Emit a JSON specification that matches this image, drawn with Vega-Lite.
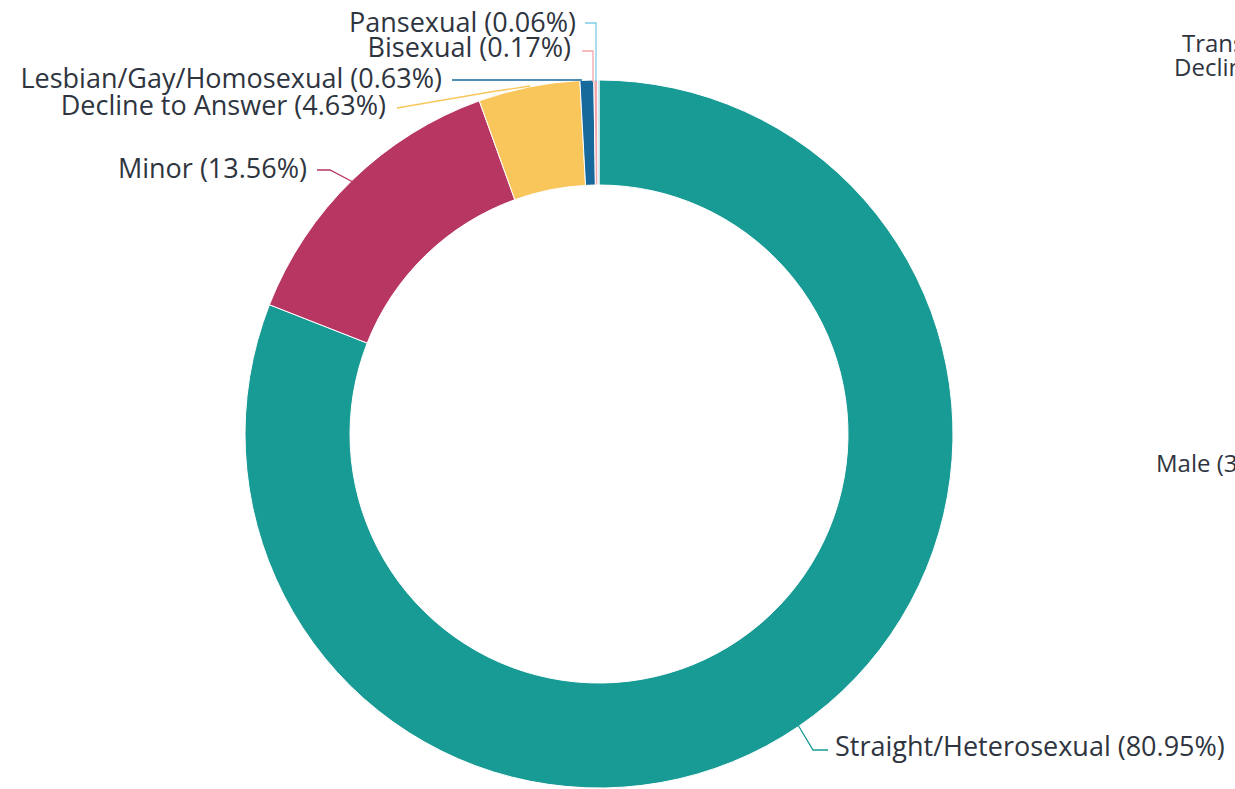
{
  "$schema": "https://vega.github.io/schema/vega-lite/v6.json",
  "width": 1198,
  "height": 868,
  "autosize": {"type": "none"},
  "padding": {"left": 0, "top": 0, "right": 37, "bottom": 0},
  "background": "white",
  "config": {"view": {"stroke": null}},
  "datasets": {
    "slices": [
      {"category": "Straight/Heterosexual", "pct": 80.95, "idx": 1},
      {"category": "Minor", "pct": 13.56, "idx": 2},
      {"category": "Decline to Answer", "pct": 4.63, "idx": 3},
      {"category": "Lesbian/Gay/Homosexual", "pct": 0.63, "idx": 4},
      {"category": "Bisexual", "pct": 0.17, "idx": 5},
      {"category": "Pansexual", "pct": 0.06, "idx": 6}
    ],
    "leaders": [
      {"category": "Pansexual", "seq": 1, "lx": -14, "ly": 411},
      {"category": "Pansexual", "seq": 2, "lx": -3, "ly": 411},
      {"category": "Pansexual", "seq": 3, "lx": -3, "ly": 352},
      {"category": "Bisexual", "seq": 1, "lx": -17, "ly": 383},
      {"category": "Bisexual", "seq": 2, "lx": -6, "ly": 383},
      {"category": "Bisexual", "seq": 3, "lx": -6, "ly": 352},
      {"category": "Lesbian/Gay/Homosexual", "seq": 1, "lx": -147, "ly": 354},
      {"category": "Lesbian/Gay/Homosexual", "seq": 2, "lx": -17, "ly": 354},
      {"category": "Decline to Answer", "seq": 1, "lx": -202, "ly": 326},
      {"category": "Decline to Answer", "seq": 2, "lx": -109, "ly": 342},
      {"category": "Decline to Answer", "seq": 3, "lx": -69, "ly": 348},
      {"category": "Minor", "seq": 1, "lx": -282, "ly": 264},
      {"category": "Minor", "seq": 2, "lx": -269, "ly": 264},
      {"category": "Minor", "seq": 3, "lx": -246, "ly": 252},
      {"category": "Straight/Heterosexual", "seq": 1, "lx": 199, "ly": -291},
      {"category": "Straight/Heterosexual", "seq": 2, "lx": 214, "ly": -316},
      {"category": "Straight/Heterosexual", "seq": 3, "lx": 229, "ly": -316}
    ],
    "labels": [
      {"text": "Pansexual (0.06%)", "tx": -23, "ty": 402, "side": "left"},
      {"text": "Bisexual (0.17%)", "tx": -28, "ty": 377, "side": "left"},
      {"text": "Lesbian/Gay/Homosexual (0.63%)", "tx": -157, "ty": 346, "side": "left"},
      {"text": "Decline to Answer (4.63%)", "tx": -213, "ty": 319, "side": "left"},
      {"text": "Minor (13.56%)", "tx": -292, "ty": 256, "side": "left"},
      {"text": "Straight/Heterosexual (80.95%)", "tx": 236, "ty": -322, "side": "right"}
    ],
    "other": [
      {"text": "Transgender", "tx": 583, "ty": 382},
      {"text": "Decline to Answer", "tx": 575, "ty": 358},
      {"text": "Male (38%)", "tx": 557, "ty": -38}
    ]
  },
  "layer": [
    {
      "data": {"name": "slices"},
      "mark": {"type": "arc", "radius": 354, "radius2": 249, "stroke": "white", "strokeWidth": 1},
      "encoding": {
        "theta": {"field": "pct", "type": "quantitative", "stack": true},
        "order": {"field": "idx", "type": "quantitative"},
        "color": {
          "field": "category",
          "type": "nominal",
          "legend": null,
          "scale": {
            "domain": ["Straight/Heterosexual", "Minor", "Decline to Answer", "Lesbian/Gay/Homosexual", "Bisexual", "Pansexual"],
            "range": ["#189A95", "#B83662", "#F8C65B", "#16699A", "#F2A5AB", "#7FCBE6"]
          }
        }
      }
    },
    {
      "data": {"name": "leaders"},
      "mark": {"type": "line", "strokeWidth": 1.3, "interpolate": "linear"},
      "encoding": {
        "x": {"field": "lx", "type": "quantitative", "scale": {"domain": [-599, 599], "zero": false, "nice": false}, "axis": null},
        "y": {"field": "ly", "type": "quantitative", "scale": {"domain": [-434, 434], "zero": false, "nice": false}, "axis": null},
        "detail": {"field": "category"},
        "order": {"field": "seq", "type": "quantitative"},
        "color": {"field": "category", "type": "nominal", "legend": null}
      }
    },
    {
      "data": {"name": "labels"},
      "transform": [{"filter": "datum.side == 'left'"}],
      "mark": {"type": "text", "align": "right", "baseline": "alphabetic", "font": "Open Sans", "fontSize": 27, "fontWeight": 500, "color": "#2f3540"},
      "encoding": {
        "x": {"field": "tx", "type": "quantitative"},
        "y": {"field": "ty", "type": "quantitative"},
        "text": {"field": "text"}
      }
    },
    {
      "data": {"name": "labels"},
      "transform": [{"filter": "datum.side == 'right'"}],
      "mark": {"type": "text", "align": "left", "baseline": "alphabetic", "font": "Open Sans", "fontSize": 27, "fontWeight": 500, "color": "#2f3540"},
      "encoding": {
        "x": {"field": "tx", "type": "quantitative"},
        "y": {"field": "ty", "type": "quantitative"},
        "text": {"field": "text"}
      }
    },
    {
      "data": {"name": "other"},
      "mark": {"type": "text", "align": "left", "baseline": "alphabetic", "font": "Open Sans", "fontSize": 24, "fontWeight": 500, "color": "#2f3540"},
      "encoding": {
        "x": {"field": "tx", "type": "quantitative"},
        "y": {"field": "ty", "type": "quantitative"},
        "text": {"field": "text"}
      }
    }
  ]
}
